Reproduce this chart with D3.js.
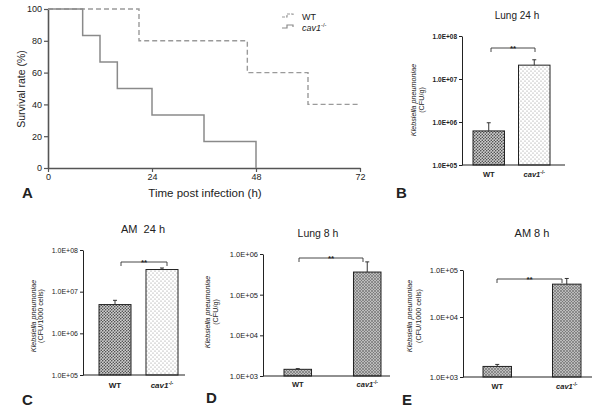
<!DOCTYPE html>
<html><head><meta charset="utf-8">
<script src="https://cdn.jsdelivr.net/npm/d3@7"></script>
<style>
body{margin:0;background:#fff}
svg{display:block}
text{font-family:"Liberation Sans",Arial,sans-serif;fill:#222;white-space:pre}
</style>
</head><body>
<svg id="c" width="600" height="415"></svg>
<script>
// ---------------- DATA ----------------
const survTicksY = [0, 20, 40, 60, 80, 100];
const survTicksX = [0, 24, 48, 72];
const wtTime  = [0, 21, 46, 60, 72];
const wtSurv  = [100, 80, 60, 40, 40];
const cavTime = [0, 8, 12, 16, 24, 36, 48];
const cavSurv = [100, 83.3, 66.7, 50, 33.3, 16.7, 0];

const groups = ["WT", "cav1"];
const lung24Mean = [6.2e5, 2.1e7];
const lung24Err  = [3.4e5, 0.7e7];
const am24Mean   = [4.9e6, 3.4e7];
const am24Err    = [1.3e6, 0.3e7];
const lung8Mean  = [1.46e3, 3.6e5];
const lung8Err   = [0.06e3, 2.8e5];
const am8Mean    = [1.5e3, 5.0e4];
const am8Err     = [0.12e3, 1.6e4];

const lung24Ticks = [1e5, 1e6, 1e7, 1e8];
const am24Ticks   = [1e5, 1e6, 1e7, 1e8];
const lung8Ticks  = [1e3, 1e4, 1e5, 1e6];
const am8Ticks    = [1e3, 1e4, 1e5];

// ---------------- SETUP ----------------
const svg = d3.select("#c");
const defs = svg.append("defs");
function dotPattern(id, size, bg, dot, r) {
  const p = defs.append("pattern").attr("id", id).attr("patternUnits", "userSpaceOnUse")
    .attr("width", size).attr("height", size);
  p.append("rect").attr("width", size).attr("height", size).attr("fill", bg);
  p.append("circle").attr("cx", size * 0.25).attr("cy", size * 0.25).attr("r", r).attr("fill", dot);
  p.append("circle").attr("cx", size * 0.75).attr("cy", size * 0.75).attr("r", r).attr("fill", dot);
}
dotPattern("darkDots", 3, "#cfcfcf", "#3a3a3a", 0.75);
dotPattern("lightDots", 4, "#ffffff", "#8a8a8a", 0.6);
(function () {
  const p = defs.append("pattern").attr("id", "hatch").attr("patternUnits", "userSpaceOnUse")
    .attr("width", 3).attr("height", 3);
  p.append("rect").attr("width", 3).attr("height", 3).attr("fill", "#bdbdbd");
  p.append("path").attr("d", "M0,0 L3,3 M3,0 L0,3").attr("stroke", "#6a6a6a").attr("stroke-width", 0.6);
})();

function expLabel(v) {
  const e = Math.round(Math.log10(v));
  return "1.0E+" + String(e).padStart(2, "0");
}
function cavText(sel, size, bold) {
  sel.append("tspan").text("cav1").attr("font-style", "italic").attr("font-weight", bold ? "bold" : "normal");
  sel.append("tspan").text("-/-").attr("font-size", size * 0.65).attr("dy", -size * 0.4);
}

// ---------------- PANEL A ----------------
(function () {
  const x = d3.scaleLinear().domain([0, 72]).range([48, 360]);
  const y = d3.scaleLinear().domain([0, 100]).range([168, 9]);
  const g = svg.append("g");
  const ax = g.append("g").attr("transform", "translate(48,0)")
    .call(d3.axisLeft(y).tickValues(survTicksY).tickSize(4).tickSizeOuter(0).tickPadding(2));
  const bx = g.append("g").attr("transform", "translate(0,168)")
    .call(d3.axisBottom(x).tickValues(survTicksX).tickSize(4).tickSizeOuter(0).tickPadding(2));
  [ax, bx].forEach(a => {
    a.select(".domain").attr("stroke", "#555").attr("stroke-width", 1.6);
    a.selectAll(".tick line").attr("stroke", "#555").attr("stroke-width", 1.2);
    a.selectAll(".tick text").attr("font-size", 9).attr("fill", "#333")
      .attr("font-family", "Liberation Sans, Arial, sans-serif");
  });
  const line = d3.line().x(d => x(d[0])).y(d => y(d[1])).curve(d3.curveStepAfter);
  g.append("path").attr("d", line(d3.zip(wtTime, wtSurv))).attr("fill", "none")
    .attr("stroke", "#9a9a9a").attr("stroke-width", 1.4).attr("stroke-dasharray", "5,3");
  g.append("path").attr("d", line(d3.zip(cavTime, cavSurv))).attr("fill", "none")
    .attr("stroke", "#8a8a8a").attr("stroke-width", 1.5);
  g.append("text").attr("x", 205).attr("y", 197).attr("text-anchor", "middle")
    .attr("font-size", 11.5).text("Time post infection (h)");
  g.append("text").attr("transform", "translate(25,89) rotate(-90)").attr("text-anchor", "middle")
    .attr("font-size", 10.5).text("Survival rate (%)");
  g.append("text").attr("x", 22).attr("y", 198).attr("font-size", 15).attr("font-weight", "bold").text("A");
  // legend
  const lg = g.append("g");
  [[17, "#9a9a9a", "3,1"], [28, "#8a8a8a", null]].forEach((r, i) => {
    lg.append("path").attr("d", `M282,${r[0]} H287 V${r[0] - 3} H293 V${r[0] - 1}`)
      .attr("fill", "none").attr("stroke", r[1]).attr("stroke-width", 1.2)
      .attr("stroke-dasharray", r[2]);
    const t = lg.append("text").attr("x", 302).attr("y", r[0] + 3).attr("font-size", 9).attr("fill", "#555");
    if (i === 0) t.text("WT"); else cavText(t, 9, false);
  });
})();

// ---------------- BAR PANELS ----------------
function barPanel(c) {
  const g = svg.append("g");
  const xb = d3.scaleBand().domain(groups).range([c.b0, c.b1]).paddingInner(c.pad).paddingOuter(0);
  const y = c.y;
  // y axis
  const ya = g.append("g").attr("transform", `translate(${c.ax},0)`)
    .call(d3.axisLeft(y).tickValues(c.ticks).tickSize(3).tickSizeOuter(0).tickPadding(2).tickFormat(expLabel));
  ya.select(".domain").attr("stroke", "#222").attr("stroke-width", 1);
  ya.selectAll(".tick line").attr("stroke", "#222");
  ya.selectAll(".tick text").attr("font-size", c.tickSize).attr("font-weight", c.tickBold ? "bold" : "normal")
    .attr("fill", "#333").attr("font-family", "Liberation Sans, Arial, sans-serif");
  // bars
  g.selectAll("rect.bar").data(groups).join("rect").attr("class", "bar")
    .attr("x", d => xb(d)).attr("width", xb.bandwidth())
    .attr("y", (d, i) => y(c.mean[i])).attr("height", (d, i) => y(c.base) - y(c.mean[i]))
    .attr("fill", (d, i) => `url(#${c.fills[i]})`).attr("stroke", "#222").attr("stroke-width", 1);
  // error bars
  groups.forEach((d, i) => {
    const cx = xb(d) + xb.bandwidth() / 2;
    const top = y(c.mean[i] + c.err[i]);
    g.append("line").attr("x1", cx).attr("x2", cx).attr("y1", y(c.mean[i])).attr("y2", top)
      .attr("stroke", "#333").attr("stroke-width", 1);
    g.append("line").attr("x1", cx - 2).attr("x2", cx + 2).attr("y1", top).attr("y2", top)
      .attr("stroke", "#333").attr("stroke-width", 1);
  });
  // x axis line
  g.append("line").attr("x1", c.ax).attr("x2", c.xEnd).attr("y1", y(c.base)).attr("y2", y(c.base))
    .attr("stroke", "#222").attr("stroke-width", 1.2);
  // x labels
  groups.forEach((d, i) => {
    const cx = xb(d) + xb.bandwidth() / 2;
    const t = g.append("text").attr("x", cx).attr("y", y(c.base) + c.xlabOff).attr("text-anchor", "middle")
      .attr("font-size", c.xlabSize).attr("font-weight", "bold");
    if (i === 0) t.text("WT"); else cavText(t, c.xlabSize, true);
  });
  // bracket
  g.append("path").attr("d", `M${c.br[0]},${c.br[2] + 4} V${c.br[2]} H${c.br[1]} V${c.br[2] + 4}`)
    .attr("fill", "none").attr("stroke", "#333").attr("stroke-width", 0.9);
  g.append("text").attr("x", (c.br[0] + c.br[1]) / 2).attr("y", c.br[2] + 2.5).attr("text-anchor", "middle")
    .attr("font-size", 8).attr("font-weight", "bold").text("**");
  // title
  g.append("text").attr("x", c.title[1]).attr("y", c.title[2]).attr("text-anchor", "middle")
    .attr("font-size", c.title[3]).text(c.title[0]);
  // y label
  g.append("text").attr("transform", `translate(${c.yl[0]},${c.yl[2]}) rotate(-90)`).attr("text-anchor", "middle")
    .attr("font-size", c.ylSize).attr("font-style", "italic").text("Klebsiella pneumoniae");
  g.append("text").attr("transform", `translate(${c.yl[1]},${c.yl[2]}) rotate(-90)`).attr("text-anchor", "middle")
    .attr("font-size", c.ylSize).text(c.yl[3]);
  // letter
  g.append("text").attr("x", c.letter[1]).attr("y", c.letter[2]).attr("font-size", 15)
    .attr("font-weight", "bold").text(c.letter[0]);
}

// B
barPanel({
  y: d3.scaleLog().domain([1e5, 1e8]).range([165, 36]), base: 1e5, ticks: lung24Ticks,
  ax: 462, xEnd: 565, b0: 473, b1: 550, pad: 0.308,
  mean: lung24Mean, err: lung24Err, fills: ["darkDots", "lightDots"],
  tickSize: 6.5, tickBold: true, xlabOff: 12, xlabSize: 7.5,
  br: [491, 535, 48], title: ["Lung 24 h", 517, 19, 10],
  yl: [416, 424, 100, "(CFU/g)"], ylSize: 7.2, letter: ["B", 396, 198]
});
// C
barPanel({
  y: d3.scaleLog().domain([1e5, 1e8]).range([375, 250]), base: 1e5, ticks: am24Ticks,
  ax: 83, xEnd: 185, b0: 99, b1: 178, pad: 0.319,
  mean: am24Mean, err: am24Err, fills: ["darkDots", "lightDots"],
  tickSize: 7, tickBold: false, xlabOff: 13, xlabSize: 8,
  br: [121, 167, 262], title: ["AM  24 h", 143, 233, 11],
  yl: [36, 43, 316, "(CFU/1000 cells)"], ylSize: 7.2, letter: ["C", 22, 405]
});
// D
barPanel({
  y: d3.scaleLog().domain([1e3, 1e6]).range([376, 254]), base: 1e3, ticks: lung8Ticks,
  ax: 263, xEnd: 390, b0: 284, b1: 381, pad: 0.604,
  mean: lung8Mean, err: lung8Err, fills: ["hatch", "hatch"],
  tickSize: 7.5, tickBold: false, xlabOff: 11, xlabSize: 7.5,
  br: [299, 363, 258], title: ["Lung 8 h", 318, 237, 10.5],
  yl: [210, 218, 312, "(CFU/g)"], ylSize: 7.2, letter: ["D", 206, 403]
});
// E (axis spacing: piecewise in log space)
const eLin = d3.scaleLinear().domain([3, 4, 5]).range([377, 317, 270]);
const eScale = v => eLin(Math.log10(v));
eScale.ticks = () => am8Ticks;
eScale.tickFormat = () => expLabel;
eScale.range = () => eLin.range();
eScale.domain = () => [1e3, 1e5];
eScale.copy = () => eScale;
barPanel({
  y: eScale, base: 1e3, ticks: am8Ticks,
  ax: 463, xEnd: 592, b0: 483, b1: 581, pad: 0.59,
  mean: am8Mean, err: am8Err, fills: ["hatch", "hatch"],
  tickSize: 7.5, tickBold: false, xlabOff: 12, xlabSize: 7.5,
  br: [497, 562, 279], title: ["AM 8 h", 532, 237, 11],
  yl: [412, 421, 316, "(CFU/1000 cells)"], ylSize: 7.2, letter: ["E", 402, 405]
});
</script>
</body></html>
